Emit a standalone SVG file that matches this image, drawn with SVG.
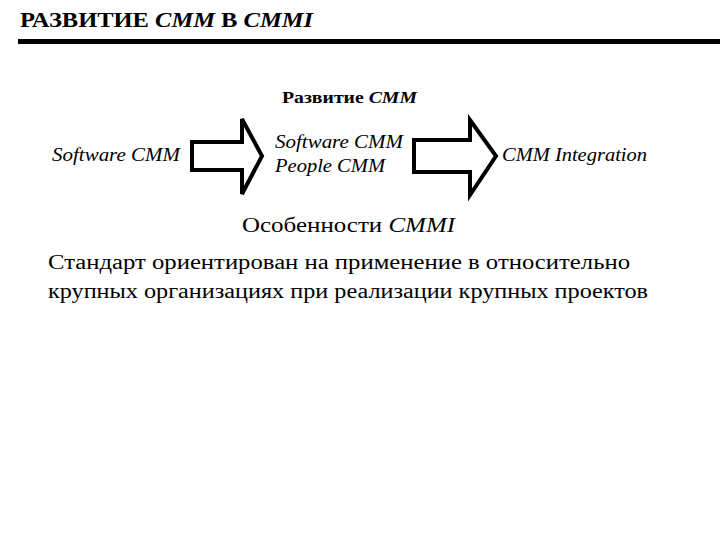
<svg xmlns="http://www.w3.org/2000/svg" width="720" height="540" viewBox="0 0 720 540">
<style>
.t{font-family:'Liberation Serif','Times New Roman','DejaVu Serif',serif;fill:#000}
.arr{fill:#fff;stroke:#000;stroke-width:4;stroke-linejoin:miter}
</style>
<rect width="720" height="540" fill="#fff"/>
<text class="t" x="20" y="27" font-size="22" font-weight="bold" textLength="293" lengthAdjust="spacingAndGlyphs">РАЗВИТИЕ <tspan font-style="italic">CMM</tspan> В <tspan font-style="italic">CMMI</tspan></text>
<rect x="18" y="39" width="702" height="5" fill="#000"/>
<text class="t" x="282" y="103" font-size="17" font-weight="bold" textLength="135" lengthAdjust="spacingAndGlyphs">Развитие <tspan font-style="italic">CMM</tspan></text>
<g id="n1"><text class="t" x="52" y="161" font-size="18" font-style="italic" textLength="128" lengthAdjust="spacingAndGlyphs">Software CMM</text></g>
<g id="n2"><text class="t" x="275" y="148" font-size="18" font-style="italic" textLength="128" lengthAdjust="spacingAndGlyphs">Software CMM</text><text class="t" x="275" y="172" font-size="18" font-style="italic" textLength="110" lengthAdjust="spacingAndGlyphs">People CMM</text></g>
<g id="n3"><text class="t" x="502" y="161" font-size="18" font-style="italic" textLength="145" lengthAdjust="spacingAndGlyphs">CMM Integration</text></g>
<g id="connectors">
<path class="arr" d="M192,142 L242,142 L242,119 L262,156 L242,194 L242,170 L192,170 Z"/>
<path class="arr" d="M414,140 L470,140 L470,120 L496,156 L470,195 L470,172 L414,172 Z"/>
</g>
<text class="t" x="242" y="232" font-size="22" textLength="213" lengthAdjust="spacingAndGlyphs">Особенности <tspan font-style="italic">CMMI</tspan></text>
<text class="t" x="48" y="269" font-size="20" textLength="582" lengthAdjust="spacingAndGlyphs">Стандарт ориентирован на применение в относительно</text>
<text class="t" x="48" y="298" font-size="20" textLength="600" lengthAdjust="spacingAndGlyphs">крупных  организациях при реализации крупных проектов</text>
</svg>
